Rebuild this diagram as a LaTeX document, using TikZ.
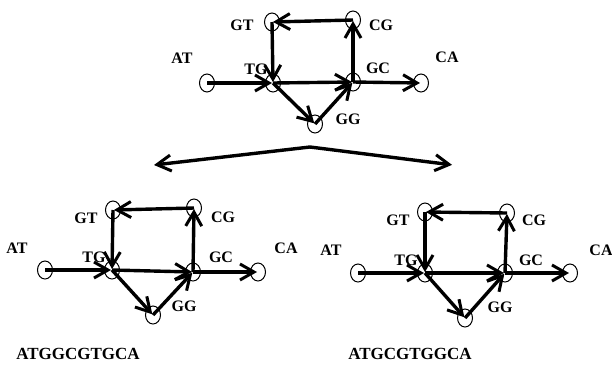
\documentclass[tikz,border=0pt]{standalone}
\usepackage{fontspec}
\setmainfont{Liberation Serif}
\usetikzlibrary{arrows.meta,shapes.geometric}

\tikzset{
  kmer/.style={draw, ellipse, minimum width=15pt, minimum height=18pt, inner sep=0pt, line width=1pt},
  lbl/.style={font=\fontsize{16}{16}\selectfont\bfseries, inner sep=0pt},
  seq/.style={font=\fontsize{17}{17}\selectfont\bfseries, inner sep=0pt},
  barb/.tip={Straight Barb[length=14pt,width=16pt,line width=3pt]},
  edge/.style={line width=3.4pt, -barb, shorten >=1pt},
}

\begin{document}
\begin{tikzpicture}[x=1pt,y=-1pt]
\useasboundingbox (0,0) rectangle (612,373);

% top graph
\node[kmer] (tat) at (207,83) {};
\node[kmer] (ttg) at (273,83) {};
\node[kmer] (tgc) at (353,82) {};
\node[kmer] (tca) at (421,83) {};
\node[kmer] (tgt) at (272,22) {};
\node[kmer] (tcg) at (353,20) {};
\node[kmer] (tgg) at (315,124) {};
\node[lbl] (ltat) at (182,58) {AT};
\node[lbl] (lttg) at (256,69) {TG};
\node[lbl] (ltgc) at (378,68) {GC};
\node[lbl] (ltca) at (447,57) {CA};
\node[lbl] (ltgt) at (242,25) {GT};
\node[lbl] (ltcg) at (381,25) {CG};
\node[lbl] (ltgg) at (348,119) {GG};
\foreach \a/\b in {at/tg, tg/gc, gc/ca, gt/tg, cg/gt, gc/cg, tg/gg, gg/gc}
  \draw[edge] (t\a.center) -- (t\b.center);

% the two readings
\coordinate (apex) at (310,147);
\coordinate (lefttip) at (154,165);
\coordinate (righttip) at (453,165);
\draw[edge, barb-barb] (lefttip) -- (apex) -- (righttip);

% left graph
\node[kmer] (lat) at (45,270) {};
\node[kmer] (ltg) at (112,270) {};
\node[kmer] (lgc) at (193,272) {};
\node[kmer] (lca) at (258,272) {};
\node[kmer] (lgt) at (113,210) {};
\node[kmer] (lcg) at (194,208) {};
\node[kmer] (lgg) at (153,315) {};
\node[lbl] (llat) at (17,248) {AT};
\node[lbl] (lltg) at (94,257) {TG};
\node[lbl] (llgc) at (221,257) {GC};
\node[lbl] (llca) at (286,248) {CA};
\node[lbl] (llgt) at (86,218) {GT};
\node[lbl] (llcg) at (223,217) {CG};
\node[lbl] (llgg) at (184,306) {GG};
\foreach \a/\b in {at/tg, tg/gc, gc/ca, gt/tg, cg/gt, gc/cg, tg/gg, gg/gc}
  \draw[edge] (l\a.center) -- (l\b.center);
\node[seq] (lseq) at (78,354) {ATGGCGTGCA};

% right graph
\node[kmer] (rat) at (358,273) {};
\node[kmer] (rtg) at (425,273) {};
\node[kmer] (rgc) at (505,273) {};
\node[kmer] (rca) at (570,273) {};
\node[kmer] (rgt) at (425,212) {};
\node[kmer] (rcg) at (507,213) {};
\node[kmer] (rgg) at (465,318) {};
\node[lbl] (lrat) at (331,250) {AT};
\node[lbl] (lrtg) at (406,260) {TG};
\node[lbl] (lrgc) at (531,260) {GC};
\node[lbl] (lrca) at (601,250) {CA};
\node[lbl] (lrgt) at (398,220) {GT};
\node[lbl] (lrcg) at (534,220) {CG};
\node[lbl] (lrgg) at (500,307) {GG};
\foreach \a/\b in {at/tg, tg/gc, gc/ca, gt/tg, cg/gt, gc/cg, tg/gg, gg/gc}
  \draw[edge] (r\a.center) -- (r\b.center);
\node[seq] (rseq) at (410,354) {ATGCGTGGCA};
\end{tikzpicture}
\end{document}
